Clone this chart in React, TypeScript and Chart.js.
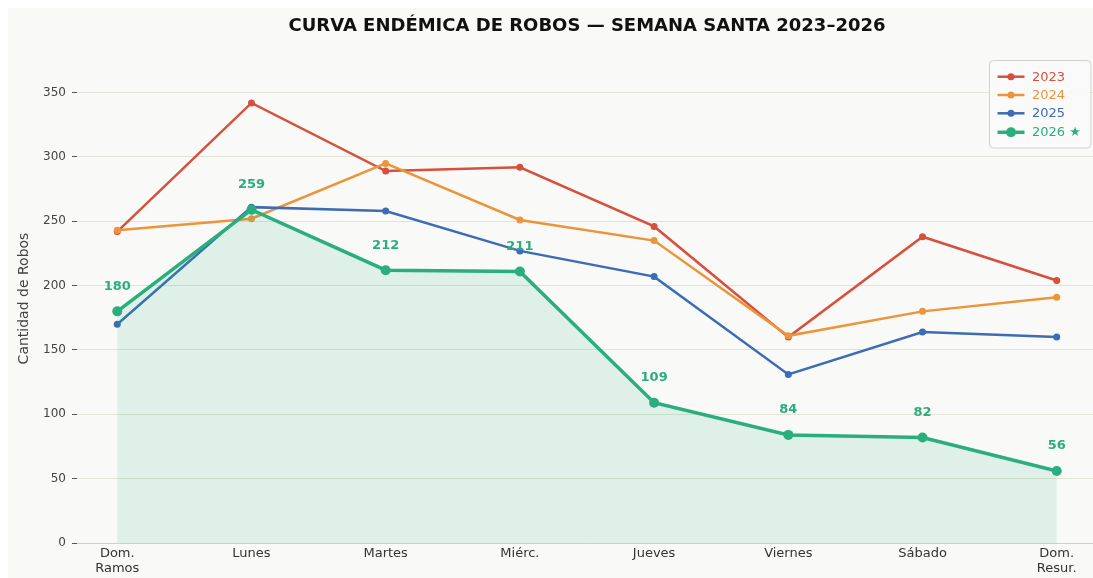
import React, { useEffect, useRef } from "react";
import { Chart, registerables } from "chart.js";

Chart.register(...registerables);

const categories: (string | string[])[] = [
  ["Dom.", "Ramos"],
  "Lunes",
  "Martes",
  "Miérc.",
  "Jueves",
  "Viernes",
  "Sábado",
  ["Dom.", "Resur."],
];
const seriesNames = ["2023", "2024", "2025", "2026 ★"];
const robos2023 = [242, 342, 289, 292, 246, 160, 238, 204];
const robos2024 = [243, 252, 295, 251, 235, 161, 180, 191];
const robos2025 = [170, 261, 258, 227, 207, 131, 164, 160];
const robos2026 = [180, 259, 212, 211, 109, 84, 82, 56];
const yTickValues = [0, 50, 100, 150, 200, 250, 300, 350];

const colors = ["#d6503e", "#ec943a", "#3b6cb4", "#2aae7e"];
const FONT = "'DejaVu Sans', sans-serif";

const toPoints = (arr: number[]) => arr.map((v, i) => ({ x: i, y: v }));

const titleCenterPlugin = {
  id: "titleCenter",
  afterLayout(chart: any) {
    const tb = chart.titleBlock;
    const ca = chart.chartArea;
    if (tb && ca) {
      tb.left = ca.left;
      tb.right = ca.right;
      tb.width = ca.right - ca.left;
    }
  },
};

const labelPlugin = {
  id: "labels2026",
  afterDatasetsDraw(chart: any) {
    const meta = chart.getDatasetMeta(3);
    const ctx = chart.ctx;
    ctx.save();
    ctx.font = `bold 13px ${FONT}`;
    ctx.fillStyle = colors[3];
    ctx.textAlign = "center";
    ctx.textBaseline = "middle";
    meta.data.forEach((pt: any, i: number) => {
      ctx.fillText(String(robos2026[i]), pt.x, pt.y - 25);
    });
    ctx.restore();
  },
};

const legendPlugin = {
  id: "customLegend",
  afterDraw(chart: any) {
    const ctx = chart.ctx;
    const ca = chart.chartArea;
    const bx = ca.right - 107.5;
    const by = ca.top + 6.5;
    const bw = 101.5;
    const bh = 87.5;
    ctx.save();
    ctx.beginPath();
    ctx.roundRect(bx, by, bw, bh, 4);
    ctx.fillStyle = "rgba(250,250,250,0.85)";
    ctx.fill();
    ctx.strokeStyle = "#d2d2d2";
    ctx.lineWidth = 1;
    ctx.stroke();
    const rows = [16.2, 34.5, 52.8, 71.8];
    seriesNames.forEach((name, i) => {
      const y = by + rows[i];
      const big = i === 3;
      ctx.strokeStyle = colors[i];
      ctx.lineWidth = big ? 3.5 : 2.5;
      ctx.beginPath();
      ctx.moveTo(bx + 8, y);
      ctx.lineTo(bx + 35, y);
      ctx.stroke();
      ctx.fillStyle = colors[i];
      ctx.beginPath();
      ctx.arc(bx + 21.5, y, big ? 5 : 3.5, 0, Math.PI * 2);
      ctx.fill();
      ctx.font = `13px ${FONT}`;
      ctx.textAlign = "left";
      ctx.textBaseline = "middle";
      ctx.fillText(name, bx + 42.5, y + 0.5);
    });
    ctx.restore();
  },
};

export default function App() {
  const ref = useRef<HTMLCanvasElement | null>(null);

  useEffect(() => {
    document.body.style.overflow = "hidden";
    const seriesData = [robos2023, robos2024, robos2025, robos2026];
    const datasets = seriesData.map((arr, i) => {
      const big = i === 3;
      return {
        label: seriesNames[i],
        data: toPoints(arr),
        borderColor: colors[i],
        backgroundColor: big ? "rgba(42,174,126,0.13)" : colors[i],
        pointBackgroundColor: colors[i],
        pointBorderWidth: 0,
        pointRadius: big ? 5 : 3.5,
        borderWidth: big ? 3.5 : 2.5,
        fill: big ? "origin" : false,
        tension: 0,
        order: 4 - i,
      };
    });

    const chart = new Chart(ref.current as HTMLCanvasElement, {
      type: "line",
      data: { datasets: datasets as any },
      options: {
        animation: false,
        responsive: false,
        layout: { padding: { left: 0, right: 21, top: 0, bottom: 0 } },
        plugins: {
          legend: { display: false },
          tooltip: { enabled: false },
          title: {
            display: true,
            text: "CURVA ENDÉMICA DE ROBOS — SEMANA SANTA 2023–2026",
            color: "#111",
            font: { family: FONT, size: 18, weight: "bold", lineHeight: 1.2 },
            padding: { top: 8, bottom: 16.4 },
          },
        },
        scales: {
          x: {
            type: "linear",
            min: -0.3,
            max: 7.3,
            afterFit: (s: any) => {
              s.height = 35;
            },
            afterBuildTicks: (s: any) => {
              s.ticks = categories.map((_, i) => ({ value: i }));
            },
            grid: { display: false, drawTicks: false },
            border: { display: true, color: "#cfcfcf", width: 1 },
            ticks: {
              autoSkip: false,
              maxRotation: 0,
              padding: 3,
              color: "#333",
              font: { family: FONT, size: 13, lineHeight: 1.15 },
              callback: (v: any) => categories[Math.round(Number(v))] as any,
            },
          },
          y: {
            min: 0,
            max: 380,
            afterFit: (s: any) => {
              s.width = 69;
            },
            afterBuildTicks: (s: any) => {
              s.ticks = yTickValues.map((v) => ({ value: v }));
            },
            grid: {
              color: "#e3e3d6",
              lineWidth: 1,
              tickLength: 5,
              tickColor: "#555",
            },
            border: { display: false },
            ticks: {
              padding: 6,
              color: "#444",
              font: { family: FONT, size: 12 },
            },
            title: {
              display: true,
              text: "Cantidad de Robos",
              color: "#444",
              font: { family: FONT, size: 14 },
              padding: { top: 8, bottom: 0 },
            },
          },
        },
      },
      plugins: [titleCenterPlugin, labelPlugin, legendPlugin],
    });
    return () => chart.destroy();
  }, []);

  return (
    <div
      style={{
        position: "fixed",
        left: 8,
        top: 8,
        right: 0,
        bottom: 0,
        overflow: "hidden",
        background: "#f9f9f7",
      }}
    >
      <canvas
        ref={ref}
        width={1110}
        height={570}
        style={{ display: "block", background: "#f9f9f7", width: 1110, height: 570 }}
      />
    </div>
  );
}
